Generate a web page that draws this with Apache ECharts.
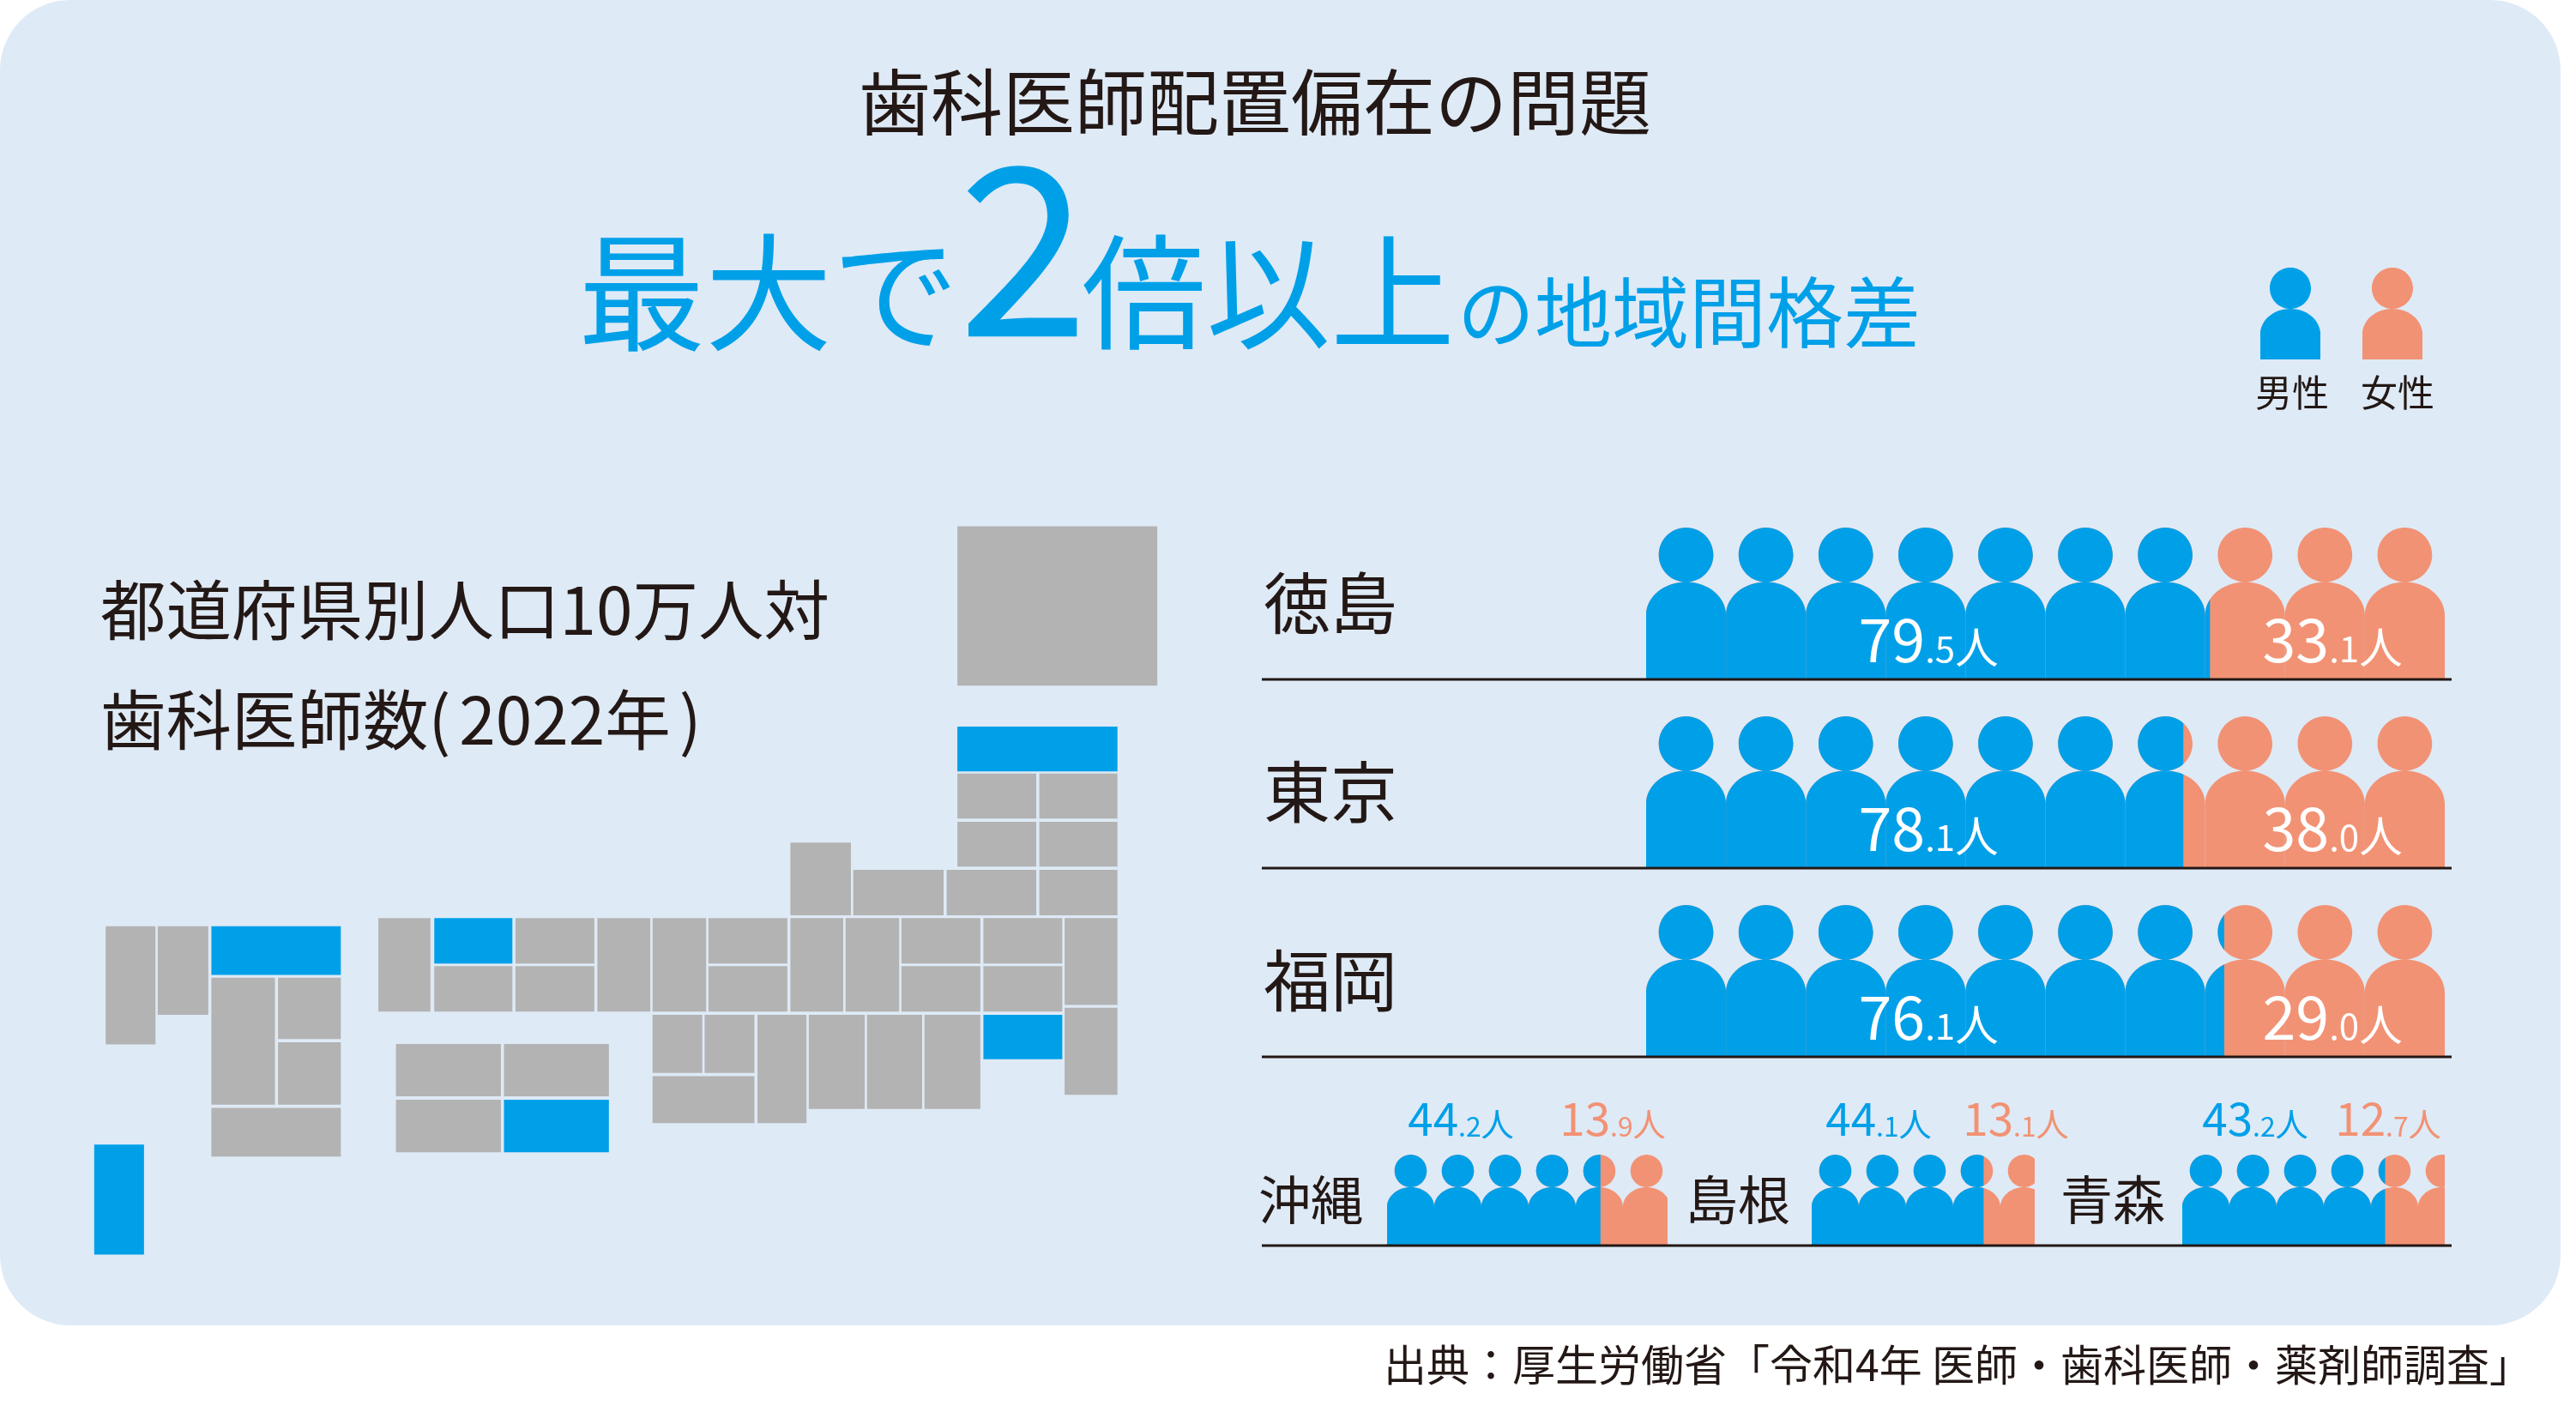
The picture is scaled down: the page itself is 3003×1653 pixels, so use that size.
<!DOCTYPE html>
<html>
<head>
<meta charset="utf-8">
<script src="https://cdn.jsdelivr.net/npm/echarts@6/dist/echarts.min.js"></script>
<style>html,body{margin:0;padding:0;background:#fff}#main{width:3003px;height:1653px}</style>
</head>
<body>
<div id="main"></div>
<script>
// per 100k population
var rowNames = ['徳島', '東京', '福岡', '沖縄', '島根', '青森'];
var maleValues = [79.5, 78.1, 76.1, 44.2, 44.1, 43.2];
var femaleValues = [33.1, 38.0, 29.0, 13.9, 13.1, 12.7];

// prefecture tiles of the map: name, left, top, right, bottom in map units
var mapTiles = [
  ['北海道', 1250, 84, 1511, 375], ['青森', 1250, 450, 1459, 532],
  ['秋田', 1250, 536, 1353, 618], ['岩手', 1357, 536, 1459, 618],
  ['山形', 1250, 624, 1353, 706], ['宮城', 1357, 624, 1459, 706],
  ['石川', 1032, 662, 1111, 795], ['富山', 1114, 712, 1232, 795],
  ['新潟', 1236, 712, 1353, 795], ['福島', 1357, 712, 1459, 795],
  ['山口', 494, 800, 562, 971], ['島根', 567, 800, 669, 883],
  ['鳥取', 673, 800, 776, 883], ['広島', 567, 888, 669, 971],
  ['岡山', 673, 888, 776, 971], ['兵庫', 780, 800, 849, 971],
  ['京都', 852, 800, 922, 971], ['福井', 925, 800, 1028, 883],
  ['滋賀', 925, 888, 1028, 971], ['岐阜', 1032, 800, 1101, 971],
  ['長野', 1104, 800, 1174, 971], ['群馬', 1177, 800, 1280, 883],
  ['栃木', 1284, 800, 1387, 883], ['山梨', 1177, 888, 1280, 971],
  ['埼玉', 1284, 888, 1387, 971], ['茨城', 1390, 800, 1459, 959],
  ['千葉', 1390, 964, 1459, 1123], ['大阪', 852, 977, 917, 1083],
  ['奈良', 920, 977, 985, 1083], ['和歌山', 852, 1089, 985, 1175],
  ['三重', 989, 977, 1053, 1175], ['愛知', 1056, 977, 1129, 1149],
  ['静岡', 1132, 977, 1204, 1149], ['神奈川', 1207, 977, 1280, 1149],
  ['東京', 1284, 977, 1387, 1058], ['愛媛', 517, 1030, 654, 1126],
  ['香川', 658, 1030, 795, 1126], ['高知', 517, 1132, 654, 1228],
  ['徳島', 658, 1132, 795, 1228], ['長崎', 138, 815, 203, 1031],
  ['佐賀', 206, 815, 272, 977], ['福岡', 276, 815, 445, 904],
  ['熊本', 276, 909, 359, 1141], ['大分', 363, 909, 445, 1021],
  ['宮崎', 363, 1027, 445, 1141], ['鹿児島', 276, 1147, 445, 1236],
  ['沖縄', 123, 1214, 188, 1415]
];

var BLUE = '#00a0e9';
var SALMON = '#f29274';
var INK = '#231815';
var FONT = '"Noto Sans CJK JP"';
var PERSON = 'path://M46.5 0C64 0 78.3 14.2 78.3 31.8C78.3 49.4 64 63.6 46.5 63.6C29 63.6 14.7 49.4 14.7 31.8C14.7 14.2 29 0 46.5 0Z' +
  'M0 102C0 81 20.8 63.6 46.5 63.6C72.2 63.6 93 81 93 102L93 176L0 176Z';
var LEGEND_PERSON = 'path://M35 0C48.3 0 59 10.7 59 24C59 37.3 48.3 48 35 48C21.7 48 11 37.3 11 24C11 10.7 21.7 0 35 0Z' +
  'M0 75C2 60 16 48 35 48C54 48 68 60 70 75L70 107L0 107Z';

// left, top, width of each row's figures; person size; how many persons; label margin
var rowBoxes = [
  { left: 1919, top: 615, width: 931, pw: 93.1, ph: 176, persons: 10, margin: 290, labelSize: 78 },
  { left: 1919, top: 835, width: 931, pw: 93.1, ph: 176, persons: 10, margin: 290, labelSize: 78 },
  { left: 1919, top: 1055, width: 931, pw: 93.1, ph: 176, persons: 10, margin: 290, labelSize: 78 },
  { left: 1617, top: 1346, width: 327, pw: 55, ph: 105, persons: 6, margin: 28, labelSize: 61 },
  { left: 2112, top: 1346, width: 260, pw: 55, ph: 105, persons: 5, margin: 25, labelSize: 61 },
  { left: 2544, top: 1346, width: 306, pw: 55, ph: 105, persons: 6, margin: 20, labelSize: 61 }
];

var grids = [], xAxes = [], yAxes = [], series = [];

rowNames.forEach(function (name, i) {
  var box = rowBoxes[i];
  var total = maleValues[i] + femaleValues[i];
  // figures run on past the row's end and get cut there
  var bounding = total * box.persons * box.pw / box.width;
  grids.push({ left: box.left, top: box.top, width: box.width, height: box.ph });
  xAxes.push({ type: 'value', gridIndex: i, min: 0, max: total, show: false });
  yAxes.push({
    type: 'category', gridIndex: i, data: [name],
    axisLine: { show: false }, axisTick: { show: false },
    axisLabel: {
      margin: box.margin, fontSize: box.labelSize, color: INK, fontFamily: FONT,
      padding: i > 2 ? [16, 0, 0, 0] : 0
    }
  });
  // women drawn over the whole width, men clipped on top of them
  series.push({
    name: '女性', type: 'pictorialBar', xAxisIndex: i, yAxisIndex: i,
    symbol: PERSON, symbolRepeat: true, symbolClip: true,
    symbolSize: [box.pw, box.ph], symbolBoundingData: bounding, symbolMargin: 0,
    itemStyle: { color: SALMON }, z: 2, animation: false, silent: true,
    data: [total]
  });
  series.push({
    name: '男性', type: 'pictorialBar', xAxisIndex: i, yAxisIndex: i,
    symbol: PERSON, symbolRepeat: true, symbolClip: true,
    symbolSize: [box.pw, box.ph], symbolBoundingData: bounding, symbolMargin: 0,
    itemStyle: { color: BLUE }, z: 3, animation: false, silent: true,
    data: [maleValues[i]]
  });
});

// map
var mapIndex = rowNames.length;
var highlighted = rowNames;
grids.push({ left: 0, top: 560, width: 1400, height: 984.7 });
xAxes.push({ type: 'value', gridIndex: mapIndex, min: 0, max: 1568, show: false });
yAxes.push({ type: 'value', gridIndex: mapIndex, min: 0, max: 1544, inverse: true, show: false });
series.push({
  type: 'custom', name: '都道府県', xAxisIndex: mapIndex, yAxisIndex: mapIndex, silent: true, animation: false,
  data: mapTiles.map(function (t) { return { name: t[0], value: t.slice(1) }; }),
  encode: { x: [0, 2], y: [1, 3] },
  renderItem: function (params, api) {
    var a = api.coord([api.value(0), api.value(1)]);
    var b = api.coord([api.value(2), api.value(3)]);
    var on = highlighted.indexOf(mapTiles[params.dataIndex][0]) >= 0;
    return {
      type: 'rect',
      shape: { x: a[0], y: a[1], width: b[0] - a[0], height: b[1] - a[1] },
      style: { fill: on ? BLUE : '#b3b3b3' }
    };
  }
});

function txt(text, x, y, size, color, align) {
  return {
    type: 'text', x: x, y: y, z: 10,
    style: { text: text, fontFamily: FONT, fontSize: size, fill: color, align: align || 'left', verticalAlign: 'middle' }
  };
}

// "79.5人" with small decimals and unit, built from the value
function valueLabel(v, x, y, big, color) {
  var parts = v.toFixed(1).split('.');
  return {
    type: 'text', x: x, y: y, z: 10,
    style: {
      text: '{a|' + parts[0] + '}{b|.' + parts[1] + '}{c|人}',
      align: 'center', verticalAlign: 'middle', fill: color, fontFamily: FONT,
      rich: {
        a: { fontSize: big, fill: color, fontFamily: FONT, verticalAlign: 'bottom' },
        b: { fontSize: big * 0.6, fill: color, fontFamily: FONT, verticalAlign: 'bottom', padding: [0, 0, big * 0.04, 0] },
        c: { fontSize: big * 0.72, fill: color, fontFamily: FONT, verticalAlign: 'bottom', padding: [0, 0, big * 0.02, 0] }
      }
    }
  };
}

var yearLine = txt('歯科医師数{p|(}2022年{q|)}', 117, 839, 76.5, INK);
yearLine.style.rich = {
  p: { fontFamily: FONT, fontSize: 76.5, fill: INK, padding: [0, 10, 0, 0] },
  q: { fontFamily: FONT, fontSize: 76.5, fill: INK, padding: [0, 0, 0, 10] }
};

var graphics = [
  { type: 'rect', z: -10, shape: { x: 0, y: 0, width: 2985, height: 1545, r: 82 }, style: { fill: '#deeaf6' } },
  txt('歯科医師配置偏在の問題', 1463, 119, 84, INK, 'center'),
  txt('最大で', 674, 341, 148, BLUE),
  txt('2', 1193, 288, 274, BLUE, 'center'),
  txt('倍以上', 1261, 341, 145, BLUE),
  txt('の地域間格差', 1699, 364, 90, BLUE),
  txt('男性', 2672, 458, 43, INK, 'center'),
  txt('女性', 2795, 458, 43, INK, 'center'),
  txt('都道府県別人口10万人対', 117, 711, 76.5, INK),
  yearLine,
  txt('出典：厚生労働省「令和4年 医師・歯科医師・薬剤師調査」', 2952, 1591, 50, INK, 'right')
];

// baselines under the rows
[792, 1012, 1232, 1452].forEach(function (y) {
  graphics.push({ type: 'line', z: 9, shape: { x1: 1471, y1: y, x2: 2858, y2: y }, style: { stroke: INK, lineWidth: 3 } });
});

var bigLabelX = [2248, 2719];
var bigLabelY = [745, 965, 1185];
var smallLabelX = [[1703, 1880], [2190, 2350], [2629, 2784]];
for (var r = 0; r < 3; r++) {
  graphics.push(valueLabel(maleValues[r], bigLabelX[0], bigLabelY[r], 70, '#ffffff'));
  graphics.push(valueLabel(femaleValues[r], bigLabelX[1], bigLabelY[r], 70, '#ffffff'));
  graphics.push(valueLabel(maleValues[r + 3], smallLabelX[r][0], 1304, 53, BLUE));
  graphics.push(valueLabel(femaleValues[r + 3], smallLabelX[r][1], 1304, 53, SALMON));
}

var myChart = echarts.init(document.getElementById('main'));
myChart.setOption({
  animation: false,
  backgroundColor: '#ffffff',
  grid: grids,
  xAxis: xAxes,
  yAxis: yAxes,
  legend: {
    left: 2635, top: 312, itemWidth: 70, itemHeight: 107, itemGap: 49, padding: 0,
    data: [{ name: '男性', icon: LEGEND_PERSON }, { name: '女性', icon: LEGEND_PERSON }],
    formatter: function () { return ''; }, selectedMode: false
  },
  graphic: graphics,
  series: series
});
</script>
</body>
</html>
